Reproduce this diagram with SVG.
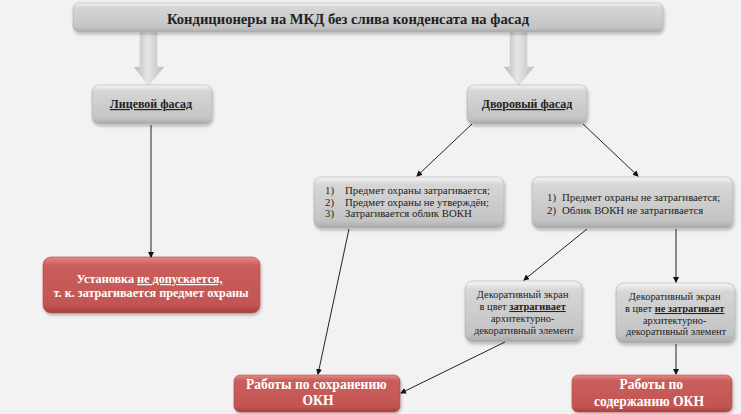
<svg xmlns="http://www.w3.org/2000/svg" width="741" height="414" viewBox="0 0 741 414">
<defs>
<linearGradient id="gGray" x1="0" y1="0" x2="0" y2="1">
<stop offset="0" stop-color="#f6f6f6"/>
<stop offset="0.15" stop-color="#d6d6d6"/>
<stop offset="0.85" stop-color="#c4c4c4"/>
<stop offset="1" stop-color="#a9a9a9"/>
</linearGradient>
<linearGradient id="gRed" x1="0" y1="0" x2="0" y2="1">
<stop offset="0" stop-color="#e58a87"/>
<stop offset="0.15" stop-color="#c95e5b"/>
<stop offset="0.85" stop-color="#c25653"/>
<stop offset="1" stop-color="#a6403d"/>
</linearGradient>
<linearGradient id="gArrow" x1="0" y1="0" x2="1" y2="0">
<stop offset="0" stop-color="#b8b8b8"/>
<stop offset="0.45" stop-color="#e6e6e6"/>
<stop offset="1" stop-color="#bdbdbd"/>
</linearGradient>
<filter id="sh" x="-10%" y="-20%" width="120%" height="150%">
<feDropShadow dx="1" dy="2" stdDeviation="1.5" flood-color="#000" flood-opacity="0.25"/>
</filter>
<marker id="ah" markerWidth="6" markerHeight="6" refX="5" refY="3" orient="auto" markerUnits="userSpaceOnUse">
<path d="M0,0 L6,3 L0,6 Z" fill="#111"/>
</marker>
<style>
.gray{fill:url(#gGray);stroke:#b0b0b0;stroke-width:0.6;filter:url(#sh)}
.red{fill:url(#gRed);stroke:#b34a47;stroke-width:0.6;filter:url(#sh)}
.t{font-family:'Liberation Serif','DejaVu Serif','Times New Roman',serif;fill:#222}
.b{font-weight:bold}
.w{fill:#fff;font-weight:bold}
.c{text-anchor:middle}
.u{text-decoration:underline}
.ln{stroke:#222;stroke-width:1;fill:none;marker-end:url(#ah)}
</style>
</defs>
<rect width="741" height="414" fill="#f2f2f2"/>

<g id="block-arrows">
<path d="M140,31 H157 V67 H164 L148.5,85 L134,67 H140 Z" fill="url(#gArrow)" stroke="#c8c8c8" stroke-width="0.5"/>
<path d="M510,31 H527 V67 H534 L518.5,85 L504,67 H510 Z" fill="url(#gArrow)" stroke="#c8c8c8" stroke-width="0.5"/>
</g>

<g id="title">
<rect class="gray" x="73" y="3" width="590" height="29" rx="6"/>
<text class="t b c" x="348" y="24" font-size="14.6">Кондиционеры на МКД без слива конденсата на фасад</text>
</g>

<g id="street-facade">
<rect class="gray" x="92" y="85" width="120" height="39" rx="7"/>
<text class="t b c u" x="151" y="108" font-size="12">Лицевой фасад</text>
</g>

<g id="yard-facade">
<rect class="gray" x="467" y="85" width="120" height="39" rx="7"/>
<text class="t b c u" x="527" y="108" font-size="12">Дворовый фасад</text>
</g>

<g id="box-affected">
<rect class="gray" x="314" y="177" width="190" height="51" rx="7"/>
<text class="t" font-size="10.8">
<tspan x="325" y="194">1)</tspan><tspan x="345" y="194">Предмет охраны затрагивается;</tspan>
<tspan x="325" y="205.5">2)</tspan><tspan x="345" y="205.5">Предмет охраны не утверждён;</tspan>
<tspan x="325" y="217">3)</tspan><tspan x="345" y="217">Затрагивается облик ВОКН</tspan>
</text>
</g>

<g id="box-not-affected">
<rect class="gray" x="532" y="177" width="201" height="51" rx="7"/>
<text class="t" font-size="10.8">
<tspan x="547" y="201">1)</tspan><tspan x="562" y="201">Предмет охраны не затрагивается;</tspan>
<tspan x="547" y="214">2)</tspan><tspan x="562" y="214">Облик ВОКН не затрагивается</tspan>
</text>
</g>

<g id="box-forbidden">
<rect class="red" x="43" y="257" width="217" height="56" rx="8"/>
<text class="t w c" font-size="12.2">
<tspan x="151" y="283">Установка <tspan class="u">не допускается,</tspan></tspan>
<tspan x="151" y="297">т. к. затрагивается предмет охраны</tspan>
</text>
</g>

<g id="screen-affects">
<rect class="gray" x="465" y="281" width="117" height="61" rx="8"/>
<text class="t c" font-size="10.4">
<tspan x="524" y="298">Декоративный экран</tspan>
<tspan x="524" y="310">в цвет <tspan class="b u">затрагивает</tspan></tspan>
<tspan x="524" y="322">архитектурно-</tspan>
<tspan x="524" y="333.5">декоративный элемент</tspan>
</text>
</g>

<g id="screen-not-affects">
<rect class="gray" x="616" y="283" width="119" height="60" rx="8"/>
<text class="t c" font-size="10.4">
<tspan x="676" y="300">Декоративный экран</tspan>
<tspan x="676" y="312">в цвет <tspan class="b u">не затрагивает</tspan></tspan>
<tspan x="676" y="323.5">архитектурно-</tspan>
<tspan x="676" y="335">декоративный элемент</tspan>
</text>
</g>

<g id="works-preservation">
<rect class="red" x="234" y="375" width="166" height="37" rx="6"/>
<text class="t w c" font-size="13.6">
<tspan x="318" y="389">Работы по сохранению</tspan>
<tspan x="318" y="405">ОКН</tspan>
</text>
</g>

<g id="works-maintenance">
<rect class="red" x="572" y="375" width="160" height="37" rx="6"/>
<text class="t w c" font-size="13.6">
<tspan x="653" y="389">Работы по</tspan>
<tspan x="649" y="406">содержанию ОКН</tspan>
</text>
</g>

<g id="connectors">
<line class="ln" x1="151" y1="125" x2="151" y2="257"/>
<line class="ln" x1="472" y1="124" x2="417" y2="176"/>
<line class="ln" x1="583" y1="124" x2="638" y2="176"/>
<line class="ln" x1="349" y1="229" x2="318" y2="374"/>
<line class="ln" x1="587" y1="229" x2="524" y2="280"/>
<line class="ln" x1="676" y1="229" x2="676" y2="282"/>
<line class="ln" x1="505" y1="342" x2="401" y2="393"/>
<line class="ln" x1="676" y1="344" x2="676" y2="374"/>
</g>
</svg>
